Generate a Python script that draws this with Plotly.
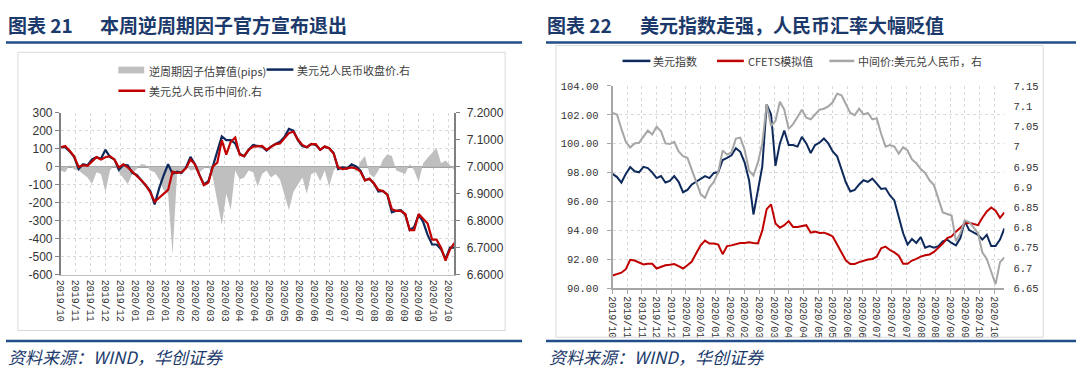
import plotly.graph_objects as go

W, H = 1076, 376

# ---------------- data ----------------
tick_labels = ["2019/10", "2019/11", "2019/11", "2019/12", "2019/12", "2020/01", "2020/01",
               "2020/01", "2020/02", "2020/02", "2020/03", "2020/03", "2020/04", "2020/04",
               "2020/05", "2020/05", "2020/06", "2020/06", "2020/07", "2020/07", "2020/07",
               "2020/08", "2020/08", "2020/09", "2020/09", "2020/10", "2020/10"]
tick_days = list(range(0, 270, 10))

# chart 21 (sample every 3 trading days)
day21 = list(range(0, 265, 3))
factor_pips = [-20, -30, 10, -15, -20, -40, -60, -95, -30, -40,
               -140, -20, 10, -30, -60, -95, -40, -10, 15, 10,
               -20, -30, -70, -130, -150, -490, -40, -30, 5, -20,
               -15, -30, -10, 10, -60, -200, -325, -150, -240, -20,
               -70, -60, -20, -30, -110, -40, -20, -60, -40, -70,
               -160, -240, -140, -100, -60, -150, -40, -30, -80, -20,
               -110, -20, 10, -20, -10, 20, -30, 30, 60, -40,
               -60, -20, 40, 70, 60, -20, -30, -40, 15, -20,
               -85, 20, 50, 80, 105, 20, 35, 10, -20]
usdcny_close = [7.0726, 7.0726, 7.0571, 7.0369, 6.9917, 7.0095, 7.0060, 7.0274, 7.0357, 7.0298,
                7.0631, 7.0369, 7.0274, 6.9893, 7.0071, 7.0060, 6.9774, 6.9702, 6.9500, 6.9298,
                6.9107, 6.8607, 6.9202, 6.9679, 7.0095, 6.9738, 6.9821, 6.9774, 6.9976, 7.0369,
                7.0095, 6.9702, 6.9345, 6.9464, 6.9976, 7.0571, 7.1131, 7.0988, 7.0988, 7.0869,
                7.0488, 7.0393, 7.0631, 7.0810, 7.0774, 7.0750, 7.0607, 7.0750, 7.0845, 7.0929,
                7.1107, 7.1405, 7.1345, 7.0988, 7.0774, 7.0726, 7.0845, 7.0810, 7.0631, 7.0750,
                7.0690, 7.0512, 6.9917, 6.9976, 6.9940, 7.0095, 7.0012, 6.9857, 6.9500, 6.9560,
                6.9381, 6.9083, 6.9107, 6.8964, 6.8310, 6.8369, 6.8393, 6.8226, 6.7655, 6.7774,
                6.8226, 6.7952, 6.7476, 6.7119, 6.7119, 6.6940, 6.6583, 6.7000, 6.7000]
usdcny_mid = [7.0726, 7.0774, 7.0595, 7.0393, 7.0000, 7.0060, 7.0036, 7.0214, 7.0357, 7.0274,
              7.0357, 7.0393, 7.0274, 6.9976, 7.0095, 6.9976, 6.9821, 6.9679, 6.9500, 6.9321,
              6.9060, 6.8702, 6.8845, 6.8964, 6.9143, 6.9821, 6.9774, 6.9798, 6.9940, 7.0274,
              7.0095, 6.9702, 6.9321, 6.9417, 7.0012, 7.0155, 7.0988, 7.0452, 7.0929, 7.1083,
              7.0452, 7.0393, 7.0631, 7.0750, 7.0774, 7.0774, 7.0631, 7.0750, 7.0845, 7.0869,
              7.1048, 7.1250, 7.1310, 7.1012, 7.0810, 7.0726, 7.0845, 7.0845, 7.0631, 7.0750,
              7.0690, 7.0488, 6.9976, 6.9917, 6.9940, 6.9976, 6.9940, 6.9821, 6.9500, 6.9560,
              6.9381, 6.9143, 6.9107, 6.8964, 6.8429, 6.8369, 6.8369, 6.8250, 6.7655, 6.7655,
              6.8250, 6.8071, 6.7893, 6.7298, 6.7298, 6.7000, 6.6524, 6.6940, 6.7179]

pips_ticks = [300, 200, 100, 0, -100, -200, -300, -400, -500, -600]
pips_text = ["300", "200", "100", "0", "-100", "-200", "-300", "-400", "-500", "-600"]
cny21_ticks = [7.2, 7.1, 7.0, 6.9, 6.8, 6.7, 6.6]
cny21_text = ["7.2000", "7.1000", "7.0000", "6.9000", "6.8000", "6.7000", "6.6000"]

# chart 22
day22 = list(range(0, 268, 3))
dxy = [97.91, 97.69, 97.31, 97.91, 98.38, 98.09, 98.02, 98.40, 98.31, 98.02,
       97.62, 97.76, 97.31, 97.42, 97.76, 97.36, 96.64, 96.80, 97.18, 97.36,
       97.58, 97.76, 97.62, 97.98, 98.02, 98.87, 99.02, 99.20, 99.69, 99.44,
       98.69, 97.47, 95.10, 96.69, 98.42, 102.73, 102.02, 98.47, 100.02, 100.91,
       99.91, 99.91, 99.80, 100.47, 100.02, 99.36, 99.91, 100.07, 100.36, 100.02,
       99.47, 99.13, 98.20, 97.31, 96.69, 96.80, 97.18, 97.47, 97.36, 97.58,
       97.24, 96.87, 96.91, 96.42, 96.07, 95.02, 93.80, 93.02, 93.40, 93.13,
       93.53, 92.80, 92.91, 92.80, 92.91, 93.24, 93.36, 93.13, 92.96, 93.47,
       94.64, 94.02, 93.84, 93.69, 93.36, 93.69, 92.91, 92.91, 93.36, 94.13]
cfets = [90.87, 90.96, 91.07, 91.31, 91.96, 91.91, 91.76, 91.64, 91.69, 91.69,
         91.36, 91.47, 91.58, 91.62, 91.67, 91.53, 91.36, 91.58, 91.84, 92.42,
         92.96, 93.29, 93.09, 93.09, 93.02, 92.35, 92.91, 92.96, 93.02, 93.13,
         93.13, 93.18, 93.13, 93.09, 93.98, 95.47, 95.80, 94.47, 94.18, 94.36,
         94.64, 94.24, 94.24, 94.29, 94.36, 93.84, 93.91, 93.82, 93.84, 93.73,
         93.58, 93.02, 92.51, 91.91, 91.67, 91.67, 91.80, 91.91, 91.98, 92.02,
         92.18, 92.76, 92.87, 92.64, 92.47, 92.24, 91.69, 91.69, 91.91, 92.02,
         92.18, 92.27, 92.33, 92.51, 92.80, 93.09, 93.47, 93.58, 93.91, 94.20,
         94.47, 94.53, 94.47, 94.36, 94.87, 95.31, 95.58, 95.36, 94.87, 95.24]
mid22 = [7.0833, 7.0794, 7.0437, 7.0119, 6.9976, 7.0079, 7.0095, 7.0254, 7.0397, 7.0302,
         7.0492, 7.0381, 7.0079, 7.0063, 7.0119, 6.9881, 6.9762, 6.9722, 6.9444, 6.9127,
         6.8825, 6.8730, 6.8992, 6.9127, 6.9365, 6.9905, 6.9802, 6.9857, 7.0198, 7.0222,
         6.9921, 6.9405, 6.9286, 6.9603, 7.0079, 7.1048, 7.0516, 7.0635, 7.1111, 7.0913,
         7.0437, 7.0556, 7.0730, 7.0913, 7.0714, 7.0675, 7.0794, 7.0913, 7.0937, 7.0992,
         7.1095, 7.1310, 7.1270, 7.1048, 7.0833, 7.0778, 7.0937, 7.0794, 7.0833, 7.0675,
         7.0698, 7.0317, 7.0000, 7.0040, 7.0000, 6.9825, 6.9984, 6.9905, 6.9683, 6.9587,
         6.9444, 6.9349, 6.9167, 6.9048, 6.8690, 6.8373, 6.8333, 6.8294, 6.7659, 6.7857,
         6.8175, 6.8135, 6.8000, 6.7857, 6.7381, 6.7222, 6.6905, 6.6600, 6.7143, 6.7262]

dxy_ticks = [104, 102, 100, 98, 96, 94, 92, 90]
dxy_text = ["104.00", "102.00", "100.00", "98.00", "96.00", "94.00", "92.00", "90.00"]
cny22_ticks = [7.15, 7.1, 7.05, 7.0, 6.95, 6.9, 6.85, 6.8, 6.75, 6.7, 6.65]
cny22_text = ["7.15", "7.1", "7.05", "7", "6.95", "6.9", "6.85", "6.8", "6.75", "6.7", "6.65"]

title21_no, title21 = "图表 21", "本周逆周期因子官方宣布退出"
title22_no, title22 = "图表 22", "美元指数走强，人民币汇率大幅贬值"
source_text = "资料来源：WIND，华创证券"
legend21 = ["逆周期因子估算值(pips)", "美元兑人民币收盘价.右", "美元兑人民币中间价.右"]
legend22 = ["美元指数", "CFETS模拟值", "中间价:美元兑人民币，右"]

# ---------------- styling helpers ----------------
def px(x):
    return x / W


def py(y):
    return 1 - y / H


NAVY = "#0E2A5C"
RED = "#C00000"
GREY_AREA = "#BFBFBF"
GREY_LINE = "#A6A6A6"
RULE = "#1F4E89"
TXT = "#404040"
CJK = "Noto Sans CJK SC"

fig = go.Figure()

fig.add_trace(go.Scatter(x=day21, y=factor_pips, xaxis="x", yaxis="y", mode="lines",
                         line=dict(width=0, color=GREY_AREA), fill="tozeroy",
                         fillcolor=GREY_AREA, showlegend=False, hoverinfo="skip"))
fig.add_trace(go.Scatter(x=day21, y=usdcny_close, xaxis="x", yaxis="y2", mode="lines",
                         line=dict(color=NAVY, width=2.2), showlegend=False))
fig.add_trace(go.Scatter(x=day21, y=usdcny_mid, xaxis="x", yaxis="y2", mode="lines",
                         line=dict(color=RED, width=2.2), showlegend=False))

fig.add_trace(go.Scatter(x=day22, y=dxy, xaxis="x2", yaxis="y3", mode="lines",
                         line=dict(color=NAVY, width=2), showlegend=False))
fig.add_trace(go.Scatter(x=day22, y=cfets, xaxis="x2", yaxis="y3", mode="lines",
                         line=dict(color=RED, width=2), showlegend=False))
fig.add_trace(go.Scatter(x=day22, y=mid22, xaxis="x2", yaxis="y4", mode="lines",
                         line=dict(color=GREY_LINE, width=2), showlegend=False))

grid = dict(showgrid=True, gridcolor="#D9D9D9", griddash="dot", gridwidth=1)
xfont = dict(family="Liberation Mono", size=10, color="#333333")
numfont = dict(family="Liberation Sans", size=12, color="#333333")
monofont = dict(family="Liberation Mono", size=10.5, color="#333333")

fig.update_layout(
    width=W, height=H, autosize=False,
    margin=dict(l=0, r=0, t=0, b=0),
    paper_bgcolor="white", plot_bgcolor="white",
    showlegend=False,
    xaxis=dict(domain=[px(55), px(451)], range=[0, 264], anchor="y",
               tickmode="array", tickvals=tick_days, ticktext=tick_labels, tickangle=90,
               tickfont=xfont, ticks="", showline=True, linecolor="#BFBFBF", linewidth=1,
               zeroline=False, ticklabelstandoff=2, **grid),
    yaxis=dict(domain=[py(278), py(110)], range=[-600, 300], anchor="x",
               tickmode="array", tickvals=pips_ticks, ticktext=pips_text, tickfont=numfont,
               showline=True, linecolor="#808080", linewidth=1.5, ticks="outside",
               ticklen=4, tickcolor="#808080", zeroline=True, zerolinecolor="#A0A0A0",
               zerolinewidth=1.5, **grid),
    yaxis2=dict(overlaying="y", side="right", anchor="x", range=[6.6, 7.2],
                tickmode="array", tickvals=cny21_ticks, ticktext=cny21_text, tickfont=numfont,
                showgrid=False, zeroline=False, showline=True, linecolor="#808080",
                linewidth=1.5, ticks="outside", ticklen=4, tickcolor="#808080",
                ticklabelstandoff=4),
    xaxis2=dict(domain=[px(610), px(1004)], range=[0, 267], anchor="y3",
                tickmode="array", tickvals=tick_days, ticktext=tick_labels, tickangle=90,
                tickfont=xfont, ticks="outside", ticklen=4, tickcolor="#A6A6A6",
                showline=True, linecolor="#A6A6A6", linewidth=2, zeroline=False, **grid),
    yaxis3=dict(domain=[py(292), py(82)], range=[90, 104], anchor="x2",
                tickmode="array", tickvals=dxy_ticks, ticktext=dxy_text, tickfont=monofont,
                showline=True, linecolor="#A6A6A6", linewidth=2, ticks="outside", ticklen=4,
                tickcolor="#A6A6A6", zeroline=False, ticklabelstandoff=6, **grid),
    yaxis4=dict(overlaying="y3", side="right", anchor="x2", range=[6.65, 7.15],
                tickmode="array", tickvals=cny22_ticks, ticktext=cny22_text, tickfont=monofont,
                showgrid=False, zeroline=False, showline=False, ticks="",
                ticklabelstandoff=8),
)

shapes = []
# chart frames
shapes.append(dict(type="rect", xref="paper", yref="paper", x0=px(12), x1=px(502),
                   y0=py(336), y1=py(47), line=dict(color="#D9D9D9", width=1)))
shapes.append(dict(type="rect", xref="paper", yref="paper", x0=px(553), x1=px(1043),
                   y0=py(343), y1=py(40), line=dict(color="#D9D9D9", width=1)))
# rules
for x0, x1 in [(0, 519), (543, 1076)]:
    shapes.append(dict(type="line", xref="paper", yref="paper", x0=px(x0), x1=px(x1),
                       y0=py(37), y1=py(37), line=dict(color=RULE, width=2.5)))
    shapes.append(dict(type="line", xref="paper", yref="paper", x0=px(x0), x1=px(x1),
                       y0=py(347), y1=py(347), line=dict(color=RULE, width=2.5)))
# legend swatches chart 21
shapes.append(dict(type="rect", xref="paper", yref="paper", x0=px(113), x1=px(139),
                   y0=py(69), y1=py(62), fillcolor=GREY_AREA, line=dict(width=0)))
shapes.append(dict(type="line", xref="paper", yref="paper", x0=px(262), x1=px(289),
                   y0=py(65), y1=py(65), line=dict(color=NAVY, width=2.5)))
shapes.append(dict(type="line", xref="paper", yref="paper", x0=px(113), x1=px(140),
                   y0=py(87), y1=py(87), line=dict(color=RED, width=2.5)))
# legend swatches chart 22
for (a, b), c in zip([(620, 648), (715, 742), (828, 853)], [NAVY, RED, GREY_LINE]):
    shapes.append(dict(type="line", xref="paper", yref="paper", x0=px(a), x1=px(b),
                       y0=py(56), y1=py(56), line=dict(color=c, width=2.5)))

ann = []


def text(x, y, s, size=12, color=TXT, family=CJK, anchor="left"):
    ann.append(dict(xref="paper", yref="paper", x=px(x), y=py(y), text=s, showarrow=False,
                    xanchor=anchor, yanchor="middle", font=dict(family=family, size=size,
                                                                 color=color)))


text(142, 66, legend21[0], size=11)
text(291, 65, legend21[1], size=11)
text(142, 87, legend21[2], size=11)
text(649, 56, legend22[0], size=11)
text(744, 56, legend22[1], size=11)
text(855, 56, legend22[2], size=11)

TITLE = "#1B3A6B"
text(0, 18, "<b>" + title21_no + "</b>", size=19, color=TITLE)
text(93, 18, "<b>" + title21 + "</b>", size=19, color=TITLE)
text(542, 18, "<b>" + title22_no + "</b>", size=19, color=TITLE)
text(636, 18, "<b>" + title22 + "</b>", size=19, color=TITLE)
text(0, 363, "<i>" + source_text + "</i>", size=17, color=TITLE)
text(544, 363, "<i>" + source_text + "</i>", size=17, color=TITLE)

fig.update_layout(shapes=shapes, annotations=ann)

fig.write_html("out.html", config={"displayModeBar": False},
               post_script="document.body.style.margin='0px';")
